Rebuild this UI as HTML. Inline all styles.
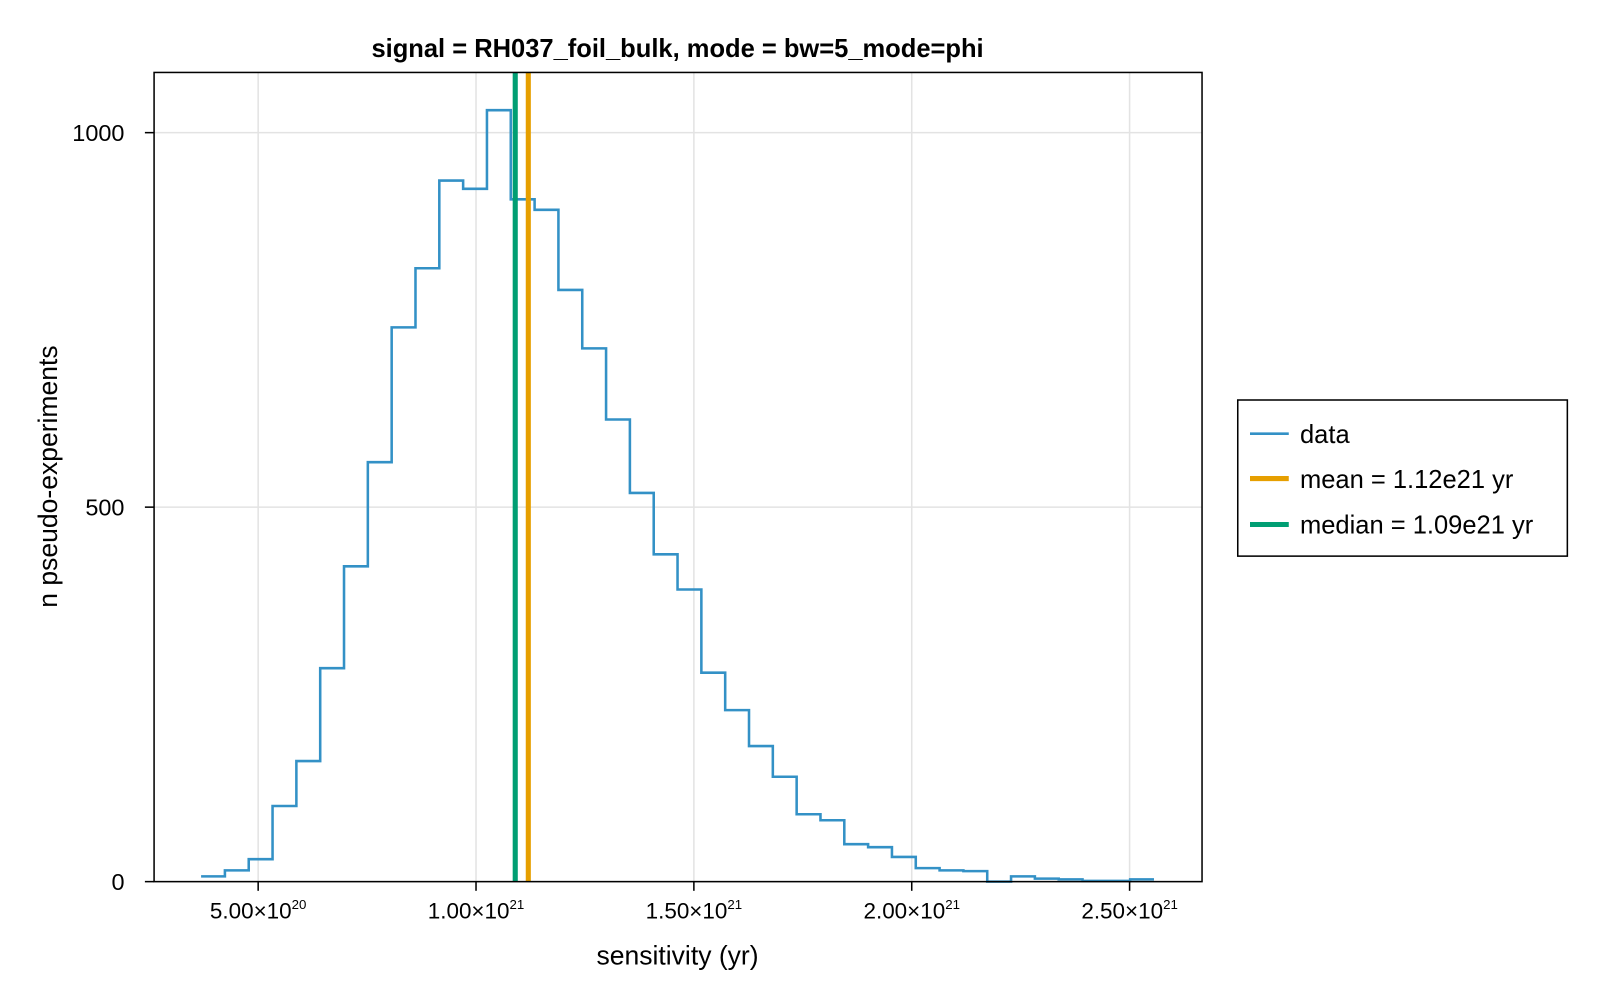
<!DOCTYPE html>
<html><head><meta charset="utf-8"><style>
body{margin:0;background:#fff;font-family:"Liberation Sans",sans-serif;}
svg text{font-family:"Liberation Sans",sans-serif;}
</style></head><body>
<svg id="chart" width="1600" height="1000" viewBox="0 0 1568 980">
<rect width="1568" height="980" fill="#fff"/>
<text x="664" y="56" text-anchor="middle" font-size="25" font-weight="bold">signal = RH037_foil_bulk, mode = bw=5_mode=phi</text>
<g id="grid"></g>
<g id="bars"></g>
<g id="lines"></g>
<rect x="151" y="71" width="1027" height="793" fill="none" stroke="#000" stroke-width="1.5"/>
<g id="ticks"></g>
<text x="664" y="945" text-anchor="middle" font-size="26">sensitivity (yr)</text>
<text transform="translate(56,467) rotate(-90)" text-anchor="middle" font-size="26">n pseudo-experiments</text>
<g>
<rect x="1213" y="392" width="323" height="153" fill="#fff" stroke="#000" stroke-width="1.5"/>
<g><line x1="1225" y1="425" x2="1263" y2="425" stroke="#3391c6" stroke-width="2.5"/><text x="1274" y="434" font-size="25">data</text></g>
<g><line x1="1225" y1="469" x2="1263" y2="469" stroke="#e69f00" stroke-width="5"/><text x="1274" y="478" font-size="25">mean = 1.12e21 yr</text></g>
<g><line x1="1225" y1="514" x2="1263" y2="514" stroke="#009e73" stroke-width="5"/><text x="1274" y="523" font-size="25">median = 1.09e21 yr</text></g>
</g>
</svg>
<script>
const binStart = 3.69e20;
const binWidth = 5.4675e19;
const counts = [7,15,30,101,161,285,421,560,740,819,936,925,1030,911,897,790,712,617,519,437,390,279,229,181,140,90,82,50,46,33,18,15,14,0,7,4,3,1,1,3];
const xTicks = [5e20,1e21,1.5e21,2e21,2.5e21];
const xTickMant = ["5.00","1.00","1.50","2.00","2.50"];
const xTickExp = ["20","21","21","21","21"];
const yTicks = [0,500,1000];
const meanVal = 1.12e21;
const medianVal = 1.09e21;

const NS="http://www.w3.org/2000/svg";
const X = v => 253 + (v-5e20)/5e20*213.5;
const Y = v => 864 - v*0.734;
function mk(tag, attrs, parent){const e=document.createElementNS(NS,tag);for(const k in attrs)e.setAttribute(k,attrs[k]);parent.appendChild(e);return e;}
const grid=document.getElementById('grid'), ticks=document.getElementById('ticks'), bars=document.getElementById('bars'), lines=document.getElementById('lines');
xTicks.forEach((t,i)=>{
  const gl=mk('line',{x1:X(t),x2:X(t),y1:71,y2:864,stroke:'#e3e3e3','stroke-width':1.5},grid);
  
  
  const tk=mk('line',{x1:X(t),x2:X(t),y1:864,y2:873,stroke:'#000','stroke-width':1.5},ticks);
  
  
  const tx=mk('text',{x:X(t),y:900,'text-anchor':'middle','font-size':22},ticks);
  
  
  tx.textContent=xTickMant[i]+'×10';
  const sp=mk('tspan',{dy:-9,'font-size':13},tx); sp.textContent=xTickExp[i];
});
yTicks.forEach(t=>{
  const gl=mk('line',{x1:151,x2:1178,y1:Y(t),y2:Y(t),stroke:'#e3e3e3','stroke-width':1.5},grid);
  
  
  const tk=mk('line',{x1:142,x2:151,y1:Y(t),y2:Y(t),stroke:'#000','stroke-width':1.5},ticks);
  
  
  const tx=mk('text',{x:122,y:Y(t)+8,'text-anchor':'end','font-size':23},ticks);
  
  
  tx.textContent=String(t);
});
let d='';
counts.forEach((c,i)=>{
  const x0=X(binStart+i*binWidth), x1=X(binStart+(i+1)*binWidth);
  d += (i===0?'M'+x0+','+Y(c):'L'+x0+','+Y(c)) + 'L'+x1+','+Y(c);
});
const p=mk('path',{d:d,fill:'none',stroke:'#3391c6','stroke-width':2.5},bars);


const ml=mk('line',{x1:X(meanVal),x2:X(meanVal),y1:71,y2:864,stroke:'#e69f00','stroke-width':5},lines);


const md=mk('line',{x1:X(medianVal),x2:X(medianVal),y1:71,y2:864,stroke:'#009e73','stroke-width':5},lines);


</script>
</body></html>
